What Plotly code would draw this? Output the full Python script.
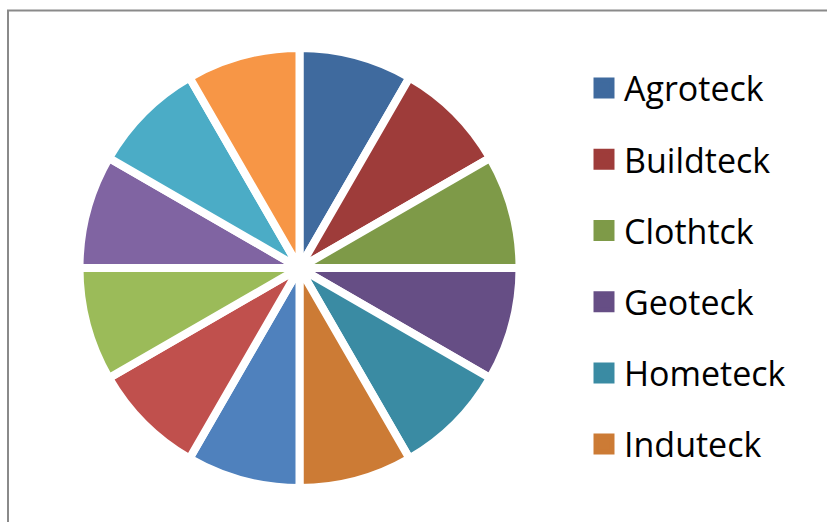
import plotly.graph_objects as go

# Data
categories = ["Agroteck", "Buildteck", "Clothtck", "Geoteck", "Hometeck", "Induteck",
              "Agroteck 2", "Buildteck 2", "Clothtck 2", "Geoteck 2", "Hometeck 2", "Induteck 2"]
values = [1, 1, 1, 1, 1, 1, 1, 1, 1, 1, 1, 1]
colors = ["#3F6A9E", "#9E3C3A", "#7E9A48", "#664E85", "#3A8BA3", "#CC7B35",
          "#4F81BD", "#C0504D", "#9BBB59", "#8064A2", "#4BACC6", "#F79646"]
legend_labels = ["Agroteck", "Buildteck", "Clothtck", "Geoteck", "Hometeck", "Induteck"]
legend_colors = colors[:6]

W, H = 827, 522
cx, cy, R = 299.5, 268, 220

fig = go.Figure()
fig.add_trace(go.Pie(
    labels=categories, values=values, sort=False, direction="clockwise", rotation=0,
    marker=dict(colors=colors, line=dict(color="white", width=8)),
    textinfo="none", showlegend=False, hoverinfo="label+value",
    domain=dict(x=[(cx - R) / W, (cx + R) / W], y=[1 - (cy + R) / H, 1 - (cy - R) / H]),
))

for i, (lab, col) in enumerate(zip(legend_labels, legend_colors)):
    fig.add_trace(go.Scatter(
        x=[None], y=[None], mode="markers", name=lab, legendgroup=f"g{i}",
        marker=dict(symbol="square", size=16, color=col, line=dict(color=col, width=5)),
    ))

fig.update_layout(
    width=W, height=H,
    margin=dict(l=0, r=0, t=0, b=0),
    paper_bgcolor="white", plot_bgcolor="white",
    xaxis=dict(visible=False), yaxis=dict(visible=False),
    font=dict(family="Open Sans", size=34, color="black"),
    legend=dict(x=584 / W, y=1 - 59.5 / H, xanchor="left", yanchor="top",
                tracegroupgap=24, bgcolor="rgba(0,0,0,0)", font=dict(size=34)),
    shapes=[dict(type="rect", xref="paper", yref="paper",
                 x0=8 / W, x1=1.05, y0=-0.05, y1=1 - 10.5 / H,
                 line=dict(color="#8a8a8a", width=2), fillcolor="rgba(0,0,0,0)", layer="above")],
)

fig.write_html("out.html")
